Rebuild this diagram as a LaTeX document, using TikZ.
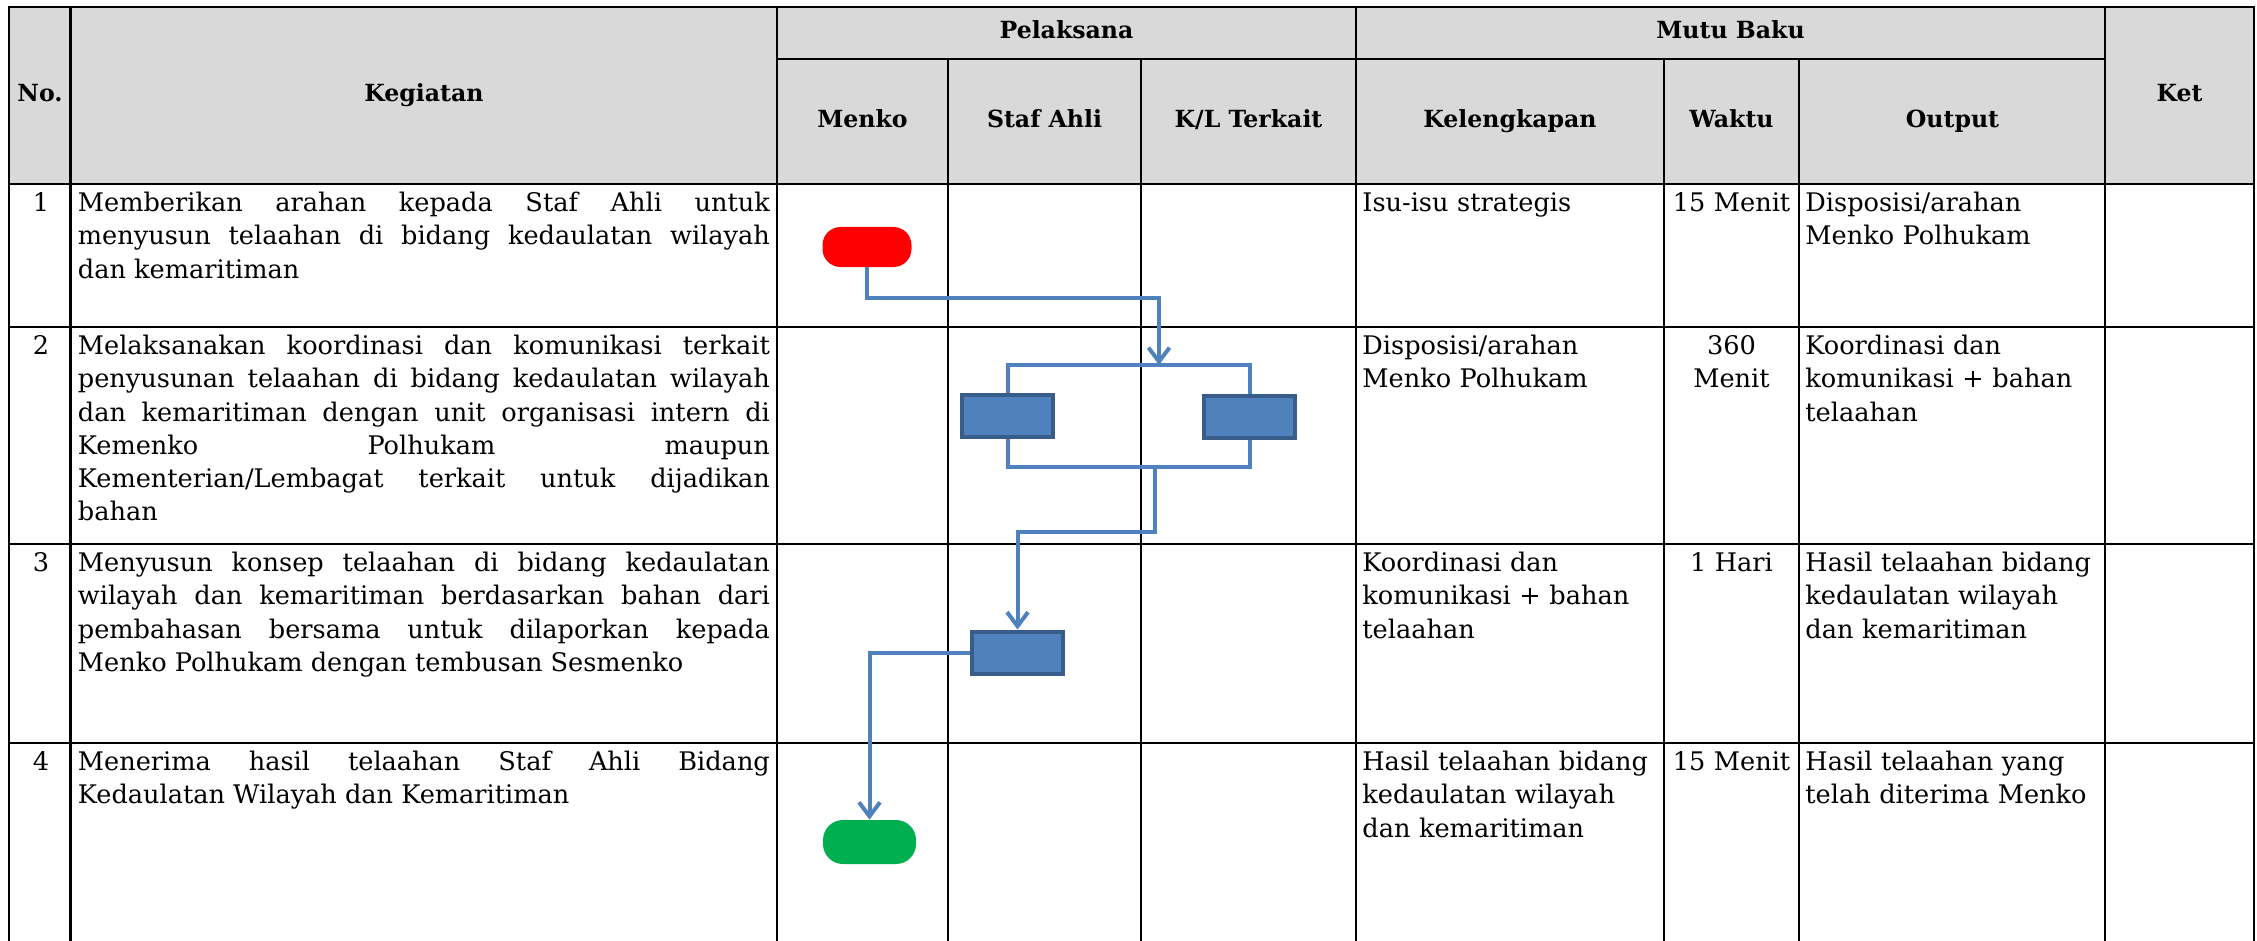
\documentclass[tikz,border=0pt]{standalone}
\usepackage{fontspec}
\setmainfont{DejaVu Serif}
\usetikzlibrary{arrows.meta}
\definecolor{hdrgray}{HTML}{D9D9D9}
\definecolor{flowblue}{HTML}{4F81BD}
\definecolor{flowedge}{HTML}{385D8A}
\definecolor{startred}{HTML}{FF0000}
\definecolor{endgreen}{HTML}{00B050}
\hyphenpenalty=10000
\exhyphenpenalty=10000
\newcommand{\bodysize}{\fontsize{12.8pt}{16.6pt}\selectfont}
\begin{document}
\begin{tikzpicture}[x=0.5pt,y=-0.5pt,
  grid/.style={line width=1.2pt, line cap=rect},
  hdr/.style={font=\fontsize{11.8pt}{14pt}\selectfont\bfseries, align=center, inner sep=0pt, text height=9pt, text depth=3pt},
  body/.style={font=\bodysize, inner sep=0pt, anchor=north west},
  kegtext/.style={body, text width=346pt, align=justify},
  coltext/.style={body, text width=148pt, align=left},
  waktu/.style={body, anchor=north, text width=65pt, align=center},
  nomor/.style={body, anchor=north},
  term/.style={draw=none, inner sep=0pt},
  act/.style={draw=flowedge, fill=flowblue, line width=2pt, minimum width=45.5pt, minimum height=21pt, inner sep=0pt},
  conn/.style={draw=flowblue, line width=2pt},
  arr/.style={-{Straight Barb[length=7pt,width=10.5pt]}}
]
\useasboundingbox (0,0) rectangle (2257,941);
\clip (0,0) rectangle (2257,941);

% header background
\fill[hdrgray] (9,7) rectangle (2254,184);

% table grid
\draw[grid] (9,7) -- (2254,7);
\draw[grid] (777,59) -- (2105,59);
\foreach \yy in {184,327,544,743} \draw[grid] (9,\yy) -- (2254,\yy);
\foreach \xx in {9,70.5,777,1356,2105,2254} \draw[grid] (\xx,7) -- (\xx,950);
\foreach \xx in {948,1141,1664,1799} \draw[grid] (\xx,59) -- (\xx,950);

% header texts
\node[hdr] (hNo) at (40,95.5) {No.};
\node[hdr] (hKeg) at (424,95.5) {Kegiatan};
\node[hdr] (hPel) at (1066.5,33) {Pelaksana};
\node[hdr] (hMutu) at (1730.5,33) {Mutu Baku};
\node[hdr] (hMenko) at (862.5,121.5) {Menko};
\node[hdr] (hStaf) at (1044.5,121.5) {Staf Ahli};
\node[hdr] (hKL) at (1248.5,121.5) {K/L Terkait};
\node[hdr] (hKel) at (1510,121.5) {Kelengkapan};
\node[hdr] (hWaktu) at (1731.5,121.5) {Waktu};
\node[hdr] (hOut) at (1952.5,121.5) {Output};
\node[hdr] (hKet) at (2179.5,95.5) {Ket};

% row 1
\node[nomor] (n1) at (41,188) {\strut 1};
\node[kegtext] (k1) at (77.5,188) {\strut Memberikan arahan kepada Staf Ahli untuk\linebreak menyusun telaahan di bidang kedaulatan wilayah\linebreak dan kemaritiman};
\node[coltext] (kel1) at (1362,188) {\strut Isu-isu strategis};
\node[waktu] (w1) at (1731.5,188) {\strut 15 Menit};
\node[coltext] (o1) at (1805,188) {\strut Disposisi/arahan\\Menko Polhukam};

% row 2
\node[nomor] (n2) at (41,331) {\strut 2};
\node[kegtext] (k2) at (77.5,331) {\strut Melaksanakan koordinasi dan komunikasi terkait\linebreak penyusunan telaahan di bidang kedaulatan wilayah\linebreak dan kemaritiman dengan unit organisasi intern di\linebreak Kemenko Polhukam maupun\linebreak Kementerian/Lembagat terkait untuk dijadikan\linebreak bahan};
\node[coltext] (kel2) at (1362,331) {\strut Disposisi/arahan\\Menko Polhukam};
\node[waktu] (w2) at (1731.5,331) {\strut 360\\Menit};
\node[coltext] (o2) at (1805,331) {\strut Koordinasi dan\\komunikasi + bahan\\telaahan};

% row 3
\node[nomor] (n3) at (41,548) {\strut 3};
\node[kegtext] (k3) at (77.5,548) {\strut Menyusun konsep telaahan di bidang kedaulatan\linebreak wilayah dan kemaritiman berdasarkan bahan dari\linebreak pembahasan bersama untuk dilaporkan kepada\linebreak Menko Polhukam dengan tembusan Sesmenko};
\node[coltext] (kel3) at (1362,548) {\strut Koordinasi dan\\komunikasi + bahan\\telaahan};
\node[waktu] (w3) at (1731.5,548) {\strut 1 Hari};
\node[coltext] (o3) at (1805,548) {\strut Hasil telaahan bidang\\kedaulatan wilayah\\dan kemaritiman};

% row 4
\node[nomor] (n4) at (41,747) {\strut 4};
\node[kegtext] (k4) at (77.5,747) {\strut Menerima hasil telaahan Staf Ahli Bidang\linebreak Kedaulatan Wilayah dan Kemaritiman};
\node[coltext] (kel4) at (1362,747) {\strut Hasil telaahan bidang\\kedaulatan wilayah\\dan kemaritiman};
\node[waktu] (w4) at (1731.5,747) {\strut 15 Menit};
\node[coltext] (o4) at (1805,747) {\strut Hasil telaahan yang\\telah diterima Menko};

% flow shapes
\node[term, fill=startred, minimum width=44.5pt, minimum height=20pt, rounded corners=9pt] (start) at (867,247) {};
\node[act] (b1) at (1007.5,415.5) {};
\node[act] (b2) at (1249.5,417) {};
\node[act] (b3) at (1017.5,652.5) {};
\node[term, fill=endgreen, minimum width=46.5pt, minimum height=22pt, rounded corners=10pt] (finish) at (869.5,842) {};

\coordinate (c1) at (1159,298);
\coordinate (sp) at (1159,365);
\coordinate (jn) at (1155,467);
\coordinate (c2) at (1155,532);

\draw[conn,arr] (start.south) |- (c1) -- (sp);
\draw[conn] (b1.north) |- (sp) -| (b2.north);
\draw[conn] (b1.south) |- (jn) -| (b2.south);
\draw[conn,arr] (jn) -- (c2) -| (b3.north);
\draw[conn,arr] (b3.west) -| (finish.north);
\end{tikzpicture}
\end{document}
